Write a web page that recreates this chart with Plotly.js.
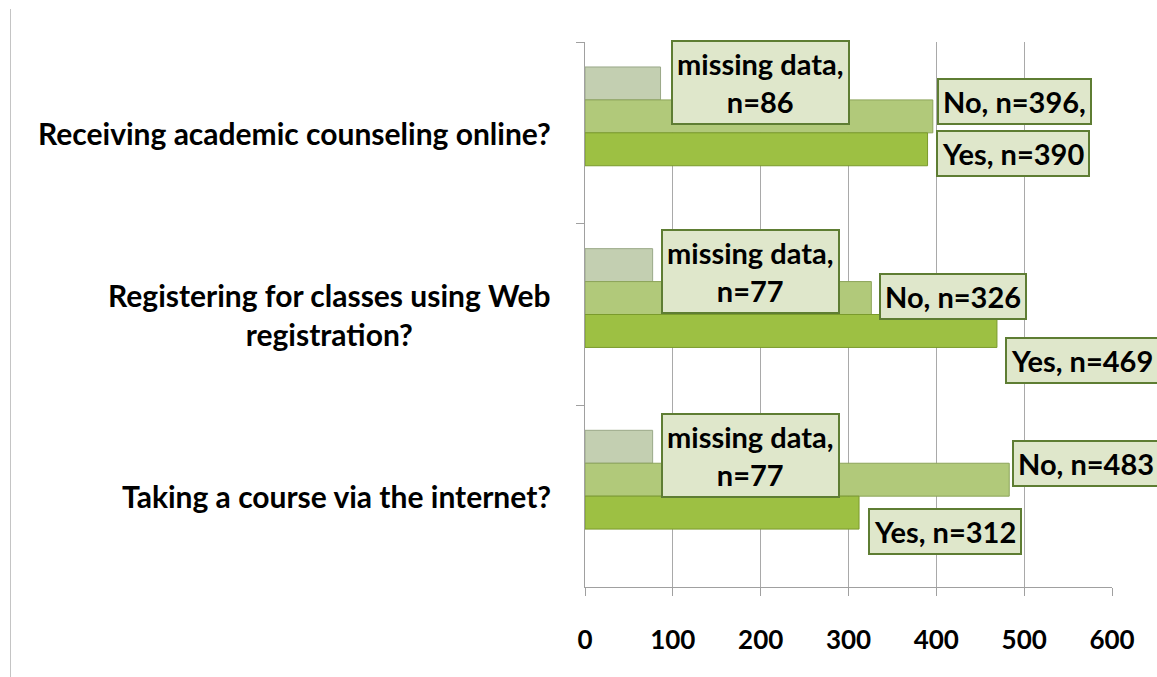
<!DOCTYPE html>
<html>
<head>
<meta charset="utf-8">
<script src="https://cdn.plot.ly/plotly-3.0.1.min.js"></script>
<style>
  html, body { margin: 0; padding: 0; background: #ffffff; }
  #wrap { position: relative; width: 1157px; height: 677px; overflow: hidden; }
  #chart { position: absolute; left: 0; top: 0; width: 1157px; height: 677px; }
  #edge { position: absolute; left: 10px; top: 9px; width: 1px; height: 668px; background: #c4c4c4; }
</style>
</head>
<body>
<div id="wrap">
  <div id="chart"></div>
  <div id="edge"></div>
</div>
<script>
// ---- data ----
const categories = [
  "Receiving academic counseling online?",
  "Registering for classes using Web<br>registration?",
  "Taking a course via the internet?"
];
const missingValues = [86, 77, 77];
const noValues = [396, 326, 483];
const yesValues = [390, 469, 312];
const blankSeries = [0, 0, 0];   // empty 4th series that reserves a slot in each group

const missingLabels = ["missing data,<br>n=86", "missing data,<br>n=77", "missing data,<br>n=77"];
const noLabels = ["No, n=396,", "No, n=326", "No, n=483"];
const yesLabels = ["Yes, n=390", "Yes, n=469", "Yes, n=312"];
const xTicks = [0, 100, 200, 300, 400, 500, 600];

// ---- label placement (pixel offsets, styling only) ----
const missingShift = [[10, 50], [8, 43], [8, 41]];
const noShift = [[4, 31], [8, 18], [3, 33]];
const yesShift = [[8, -21], [8, -46], [9, -35]];

const FONT = "Lato, 'Open Sans', sans-serif";

function barTrace(vals, fill, edge, name) {
  return {
    type: "bar", orientation: "h", name: name,
    y: categories, x: vals,
    marker: { color: fill, line: { color: edge, width: 1 } },
    hoverinfo: "skip", showlegend: false
  };
}

const traces = [
  barTrace(missingValues, "#c3cfb1", "#9aa888", "missing"),
  barTrace(noValues, "#b1c97a", "#8ca45a", "No"),
  barTrace(yesValues, "#9dc043", "#7a9a2c", "Yes"),
  { type: "bar", orientation: "h", name: "blank", y: categories, x: blankSeries,
    marker: { color: "rgba(0,0,0,0)", line: { width: 0 } },
    hoverinfo: "skip", showlegend: false }
];

const boxStyle = {
  xref: "x", yref: "y", showarrow: false,
  xanchor: "left", yanchor: "middle", align: "center",
  bgcolor: "#dfe7cb", bordercolor: "#5e7d33", borderwidth: 2, borderpad: 4,
  font: { family: FONT, size: 29, color: "#000000", weight: "bold" }
};

const annotations = [];
function addLabels(vals, texts, shifts) {
  vals.forEach((v, i) => {
    annotations.push(Object.assign({}, boxStyle, {
      x: v, y: categories[i], text: texts[i],
      xshift: shifts[i][0], yshift: shifts[i][1]
    }));
  });
}
addLabels(missingValues, missingLabels, missingShift);
addLabels(noValues, noLabels, noShift);
addLabels(yesValues, yesLabels, yesShift);

// category labels (centred multi-line text, right of them the axis)
categories.forEach((c) => {
  annotations.push({
    xref: "paper", yref: "y", x: 0, y: c, text: c,
    xanchor: "right", yanchor: "middle", align: "center",
    xshift: -32, showarrow: false,
    font: { family: FONT, size: 30, color: "#000000", weight: "bold" }
  });
});

const layout = {
  width: 1157, height: 677,
  margin: { l: 585, r: 45, t: 42, b: 90 },
  paper_bgcolor: "#ffffff", plot_bgcolor: "#ffffff",
  barmode: "group", bargap: 0.275, bargroupgap: 0,
  xaxis: {
    range: [0, 600], tickvals: xTicks, ticktext: xTicks.map(String),
    showgrid: true, gridcolor: "#a9a9a9", gridwidth: 1,
    showline: true, linecolor: "#a0a0a0", linewidth: 1,
    ticks: "outside", ticklen: 8, tickcolor: "#a0a0a0",
    ticklabelstandoff: 22, zeroline: false,
    tickfont: { family: FONT, size: 26, color: "#000000", weight: "bold" },
    fixedrange: true
  },
  yaxis: {
    type: "category", autorange: "reversed",
    showgrid: false, showline: true, linecolor: "#a0a0a0", linewidth: 1,
    ticks: "outside", ticklen: 8, tickcolor: "#a0a0a0", tickson: "boundaries",
    showticklabels: false, zeroline: false, fixedrange: true
  },
  annotations: annotations
};

Plotly.newPlot("chart", traces, layout, { displayModeBar: false, staticPlot: true });
</script>
</body>
</html>
